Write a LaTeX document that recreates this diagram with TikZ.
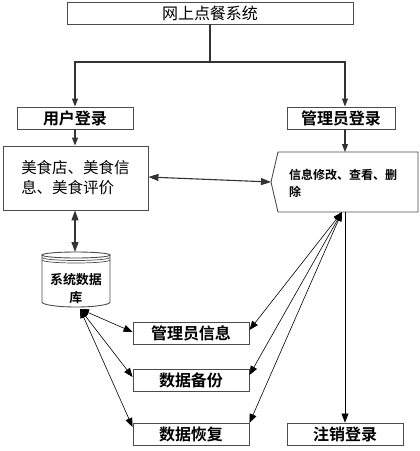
\documentclass[tikz,border=0pt]{standalone}
\usepackage{fontspec}
\setmainfont{Noto Sans CJK SC}[BoldFont={Noto Sans CJK SC Bold}]
\usetikzlibrary{arrows.meta}
\begin{document}
\begin{tikzpicture}[x=1pt,y=-1pt,
  box/.style={draw=black!70, line width=0.9pt, inner sep=0pt},
  bt/.style={font=\fontsize{16}{16}\selectfont\bfseries},
  ln/.style={draw=black!80, line width=1.1pt},
  tipa/.style={ln,-{Triangle[length=8pt,width=6pt]}},
  dbl/.style={ln,{Triangle[length=10pt,width=7pt]}-{Triangle[length=10pt,width=7pt]}},
  thn/.style={draw=black, line width=0.6pt,{Triangle[length=9pt,width=7pt]}-{Triangle[length=9pt,width=7pt]}},
  thnb/.style={draw=black, line width=0.6pt,-{Triangle[length=9pt,width=7pt]}}]
\useasboundingbox (0,0) rectangle (420,451);
% boxes
\node[box, minimum width=286pt, minimum height=22pt, font=\fontsize{16}{16}\selectfont] (top) at (210,13) {网上点餐系统};
\node[box, bt, minimum width=116pt, minimum height=22pt] (user) at (75,118) {用户登录};
\node[box, bt, minimum width=108pt, minimum height=22pt] (admin) at (341,118) {管理员登录};
\node[box, minimum width=145pt, minimum height=64pt, align=left, font=\fontsize{15.5}{20}\selectfont] (food) at (75.5,178) {美食店、美食信\\息、美食评价};
\node[box, bt, minimum width=116pt, minimum height=22pt] (info) at (191,333.5) {管理员信息};
\node[box, bt, minimum width=116pt, minimum height=22pt] (backup) at (191,380) {数据备份};
\node[box, bt, minimum width=116pt, minimum height=22pt] (restore) at (191,434) {数据恢复};
\node[box, bt, minimum width=116pt, minimum height=22pt] (logout) at (345,434) {注销登录};
% pentagon
\draw[box] (271,182) -- (278,152) -- (418,152) -- (418,212) -- (278,212) -- cycle;
\node[anchor=west, align=left, inner sep=0pt, font=\fontsize{12}{17}\selectfont\bfseries] (ptxt) at (289,183) {信息修改、查看、删\\除};
\coordinate (pL) at (271,182);
\coordinate (pT) at (345,152);
\coordinate (pB) at (342,212);
\coordinate (pV) at (345,212);
% cylinder
\draw[box] (42,255) -- (42,302) arc[start angle=180,end angle=360,x radius=34pt,y radius=5pt] -- (110,255);
\draw[box] (76,255) ellipse [x radius=34pt, y radius=3pt];
\draw[draw=black!70, line width=0.7pt] (42,257.5) arc[start angle=180,end angle=360,x radius=34pt,y radius=3pt];
\draw[draw=black!70, line width=0.7pt] (42,260) arc[start angle=180,end angle=360,x radius=34pt,y radius=3pt];
\node[align=center, inner sep=0pt, font=\fontsize{13}{18}\selectfont\bfseries] (db) at (76,289) {系统数据\\库};
\coordinate (dbT) at (75,252);
\coordinate (dbB) at (80,309);
% connectors
\coordinate (j) at (210,62);
\draw[ln] (top.south) -- (j);
\draw[tipa] (j) -| (user.north);
\draw[tipa] (j) -| ([xshift=4pt]admin.north);
\draw[tipa] (user.south) -- (food.north -| user.south);
\draw[tipa] ([xshift=4pt]admin.south) -- (pT);
\draw[dbl] ([yshift=1pt]food.east) -- (pL);
\draw[dbl] (food.south -| dbT) -- (dbT);
\draw[thn] (dbB) -- ([yshift=1.5pt]info.west);
\draw[thn] (dbB) -- ([yshift=3pt]backup.west);
\draw[thn] (dbB) -- ([yshift=7pt]restore.west);
\draw[thn] (pB) -- ([yshift=3.5pt]info.east);
\draw[thn] (pB) -- ([yshift=5pt]backup.east);
\draw[thn] (pB) -- ([yshift=11pt]restore.east);
\draw[thnb] (pV) -- (logout.north);
\end{tikzpicture}
\end{document}
